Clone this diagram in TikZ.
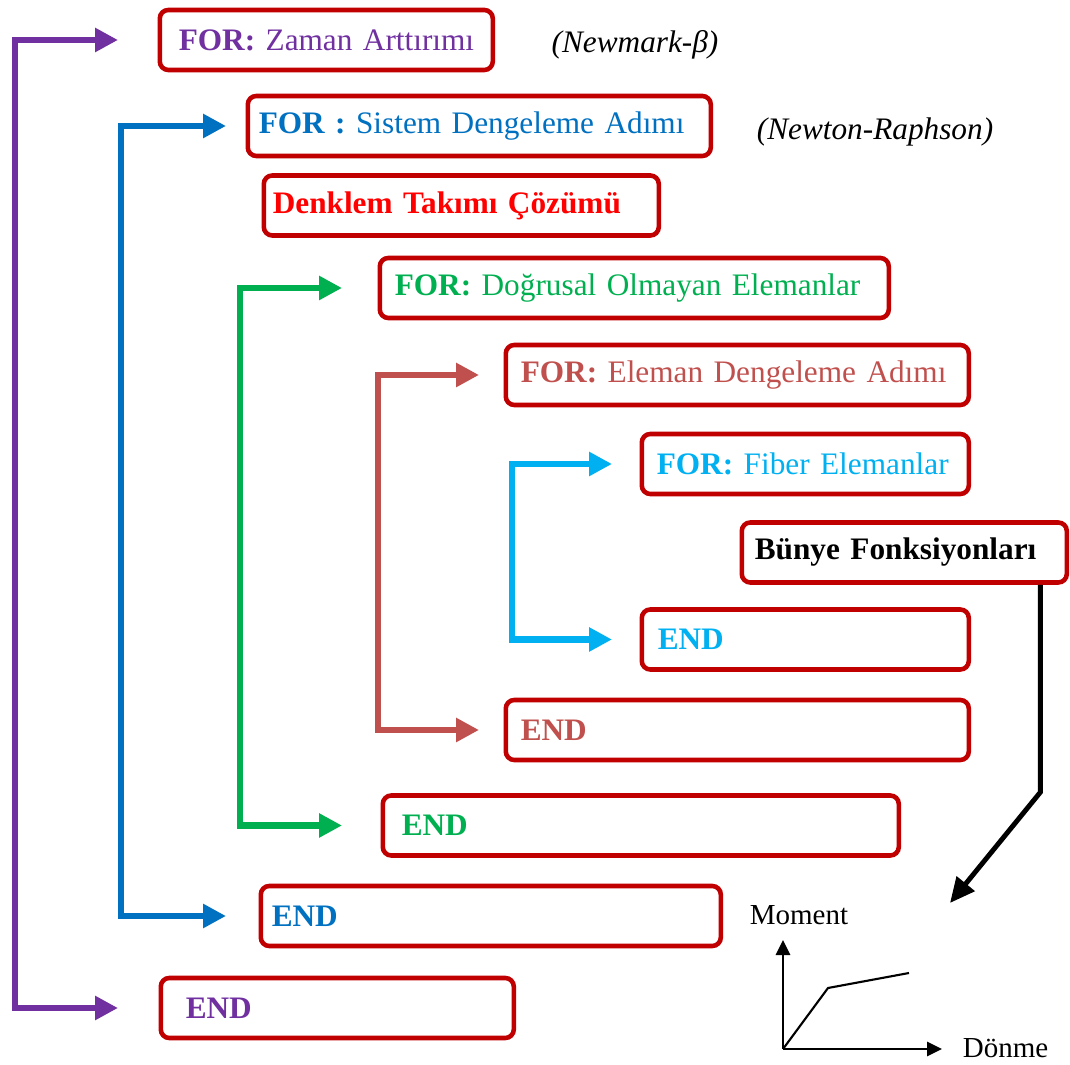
\documentclass[tikz,border=0pt]{standalone}
\usepackage{fontspec}
\setmainfont{Liberation Serif}
\usetikzlibrary{arrows.meta,calc}
\definecolor{boxred}{HTML}{C00000}
\definecolor{vpurple}{HTML}{7030A0}
\definecolor{vblue}{HTML}{0070C0}
\definecolor{vred}{HTML}{FF0000}
\definecolor{vgreen}{HTML}{00B050}
\definecolor{vbrick}{HTML}{C0504D}
\definecolor{vcyan}{HTML}{00B0F0}
\def\boxtext[#1]#2{\mbox{\hspace*{#1}#2}}
\tikzset{
	box/.style={draw=boxred, line width=2.6pt, rounded corners=0.17cm, anchor=west, minimum height=1.2cm, inner xsep=0.38cm, align=left, font=\fontsize{17.8}{21}\selectfont},
	loop/.style={draw=#1, line width=3.6pt, arrows={Triangle[length=0.46cm,width=0.46cm]-Triangle[length=0.46cm,width=0.46cm]}},
	note/.style={font=\fontsize{17.8}{21}\selectfont\itshape},
	axis/.style={line width=1.6pt, -{Triangle[length=0.3cm,width=0.28cm]}}
}

\begin{document}
\begin{tikzpicture}
				\useasboundingbox (0,0) rectangle (21.4,21.28);
				
				\node[box, text width=5.9cm, text=vpurple] (zaman) at (3.15,20.48) {\boxtext[0cm]{\textbf{FOR:} Zaman Arttırımı}};
				\node[box, text width=8.5cm, text=vblue] (sistem) at (4.91,18.76) {\boxtext[-0.16cm]{\textbf{FOR :} Sistem Dengeleme Adımı}};
				\node[box, text width=7.14cm, text=vred] (denklem) at (5.23,17.17) {\boxtext[-0.2cm]{\textbf{Denklem Takımı Çözümü}}};
				\node[box, text width=9.42cm, text=vgreen] (dogrusal) at (7.55,15.52) {\boxtext[-0.08cm]{\textbf{FOR:} Doğrusal Olmayan Elemanlar}};
				\node[box, text width=8.5cm, text=vbrick] (eleman) at (10.07,13.78) {\boxtext[-0.08cm]{\textbf{FOR:} Eleman Dengeleme Adımı}};
				\node[box, text width=5.78cm, text=vcyan] (fiber) at (12.79,12.0) {\boxtext[-0.08cm]{\textbf{FOR:} Fiber Elemanlar}};
				\node[box, text width=5.74cm] (bunye) at (14.79,10.23) {\boxtext[-0.12cm]{\textbf{Bünye Fonksiyonları}}};
				\node[box, text width=5.78cm, text=vcyan] (endfiber) at (12.79,8.49) {\boxtext[-0.06cm]{\textbf{END}}};
				\node[box, text width=8.5cm, text=vbrick] (endeleman) at (10.07,6.68) {\boxtext[-0.08cm]{\textbf{END}}};
				\node[box, text width=9.56cm, text=vgreen] (enddogrusal) at (7.61,4.77) {\boxtext[0cm]{\textbf{END}}};
				\node[box, text width=8.44cm, text=vblue] (endsistem) at (5.17,2.96) {\boxtext[-0.16cm]{\textbf{END}}};
				\node[box, text width=6.3cm, text=vpurple] (endzaman) at (3.17,1.12) {\boxtext[0.12cm]{\textbf{END}}};
				
				\node[note] (newmark) at (12.7,20.38) {(Newmark-β)};
				\node[note] (newton) at (17.5,18.64) {(Newton-Raphson)};
				
				\draw[loop=vpurple] ([xshift=-0.79cm]zaman.west) -- ++(-2.06,0) |- ([xshift=-0.81cm]endzaman.west);
				\draw[loop=vblue] ([xshift=-0.39cm]sistem.west) -- ++(-2.1,0) |- ([xshift=-0.65cm]endsistem.west);
				\draw[loop=vgreen] ([xshift=-0.71cm]dogrusal.west) -- ++(-2.04,0) |- ([xshift=-0.77cm]enddogrusal.west);
				\draw[loop=vbrick] ([xshift=-0.49cm]eleman.west) -- ++(-2.02,0) |- ([xshift=-0.49cm]endeleman.west);
				\draw[loop=vcyan] ([xshift=-0.55cm]fiber.west) -- ++(-2.0,0) |- ([xshift=-0.55cm]endfiber.west);
				
				\coordinate (egri) at (19.0,3.22);
				\draw[line width=2.8pt, -{Triangle[length=0.5cm,width=0.45cm]}] ([xshift=2.72cm]bunye.south) -- ++(0,-4.15) -- (egri);
				
				\draw[axis] (15.66,0.30) -- (15.66,2.48);
				\draw[axis] (15.66,0.30) -- (18.84,0.30);
				\draw[line width=1.2pt] (15.66,0.30) -- (16.56,1.52) -- (18.18,1.82);
				\node[font=\fontsize{16.5}{19}\selectfont] (moment) at (15.98,2.98) {Moment};
				\node[font=\fontsize{16.5}{19}\selectfont] (donme) at (20.11,0.32) {Dönme};
			\end{tikzpicture}
\end{document}
